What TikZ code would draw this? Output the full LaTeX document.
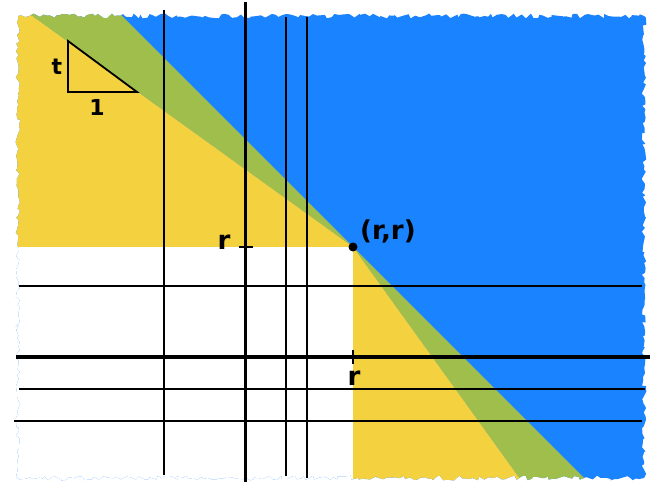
\documentclass[tikz,border=0pt]{standalone}
\usepackage{fontspec}
\setmainfont{DejaVu Sans}
\usetikzlibrary{decorations.pathmorphing}
\definecolor{cblue}{HTML}{1A83FF}
\definecolor{cgreen}{HTML}{A0BE4B}
\definecolor{cyellow}{HTML}{F4D13E}
\tikzset{
  thinline/.style={black, line width=1.9pt},
  thickline/.style={black, line width=3.6pt},
  tickmark/.style={black, line width=2.8pt},
  lbl/.style={font=\fontsize{26}{26}\selectfont\bfseries, inner sep=0pt, text=black, draw=none},
  smalllbl/.style={font=\fontsize{22}{22}\selectfont\bfseries, inner sep=0pt},
  torn/.style={decorate, decoration={random steps, segment length=3.5pt, amplitude=2.4pt}}
}
\begin{document}
\begin{tikzpicture}[x=1pt,y=-1pt]
\useasboundingbox (0,0) rectangle (653,494);
\pgfmathsetseed{7}
\def\t{0.72}
\coordinate (P) at (353,247);
\begin{scope}
  \clip[torn] (18,16) -- (644,16) -- (644,478) -- (18,478) -- cycle;
  \fill[cblue] (-20,-20) rectangle (680,520);
  % upper-left band
  \fill[cgreen] (P) -- ++(-400,-400*\t) -- ++(0,-400+400*\t) -- cycle;
  \fill[cyellow] (P) -- ++(-400,-400*\t) -- (-47,247) -- cycle;
  % lower-right band
  \fill[cgreen] (P) -- ++(300,300) -- ++(-300+300*\t,0) -- cycle;
  \fill[cyellow] (P) -- ++(300*\t,300) -- (353,547) -- cycle;
  % white quadrant
  \fill[white] (-20,247) rectangle (353,547);
\end{scope}
% vertical lines
\coordinate (v1t) at (164,10);   \coordinate (v1b) at (164,475);
\coordinate (v2t) at (245.5,2);  \coordinate (v2b) at (245.5,482);
\coordinate (v3t) at (286,17);   \coordinate (v3b) at (286,476);
\coordinate (v4t) at (307,17);   \coordinate (v4b) at (307,478);
\draw[thinline] (v1t) -- (v1b);
\draw[thickline] (v2t) -- (v2b);
\draw[thinline] (v3t) -- (v3b);
\draw[thinline] (v4t) -- (v4b);
% horizontal lines
\coordinate (h1l) at (19,286);   \coordinate (h1r) at (642,286);
\coordinate (h2l) at (16,357);   \coordinate (h2r) at (650,357);
\coordinate (h3l) at (19,389);   \coordinate (h3r) at (645,389);
\coordinate (h4l) at (14,421);   \coordinate (h4r) at (642,421);
\draw[thinline] (h1l) -- (h1r);
\draw[thickline] (h2l) -- (h2r);
\draw[thinline] (h3l) -- (h3r);
\draw[thinline] (h4l) -- (h4r);
% ticks
\coordinate (tx1) at (353,350); \coordinate (tx2) at (353,364);
\coordinate (ty1) at (239,247); \coordinate (ty2) at (253,247);
\draw[tickmark] (tx1) -- (tx2);
\draw[tickmark] (ty1) -- (ty2);
\node[lbl] (rx) at (354,378) {r};
\node[lbl] (ry) at (224,242) {r};
% point
\fill[black] (P) circle (4.5);
\node[lbl, anchor=south west] (rr) at (360,243) {(r,r)};
% slope triangle
\coordinate (A) at (68,41);
\coordinate (B) at (68,92);
\coordinate (C) at (137,92);
\draw[black, line width=1.8pt, line join=miter] (A) -- (B) -- (C) -- cycle;
\node[smalllbl] (tl) at (57,67) {t};
\node[smalllbl] (one) at (97,107) {1};
\end{tikzpicture}
\end{document}
